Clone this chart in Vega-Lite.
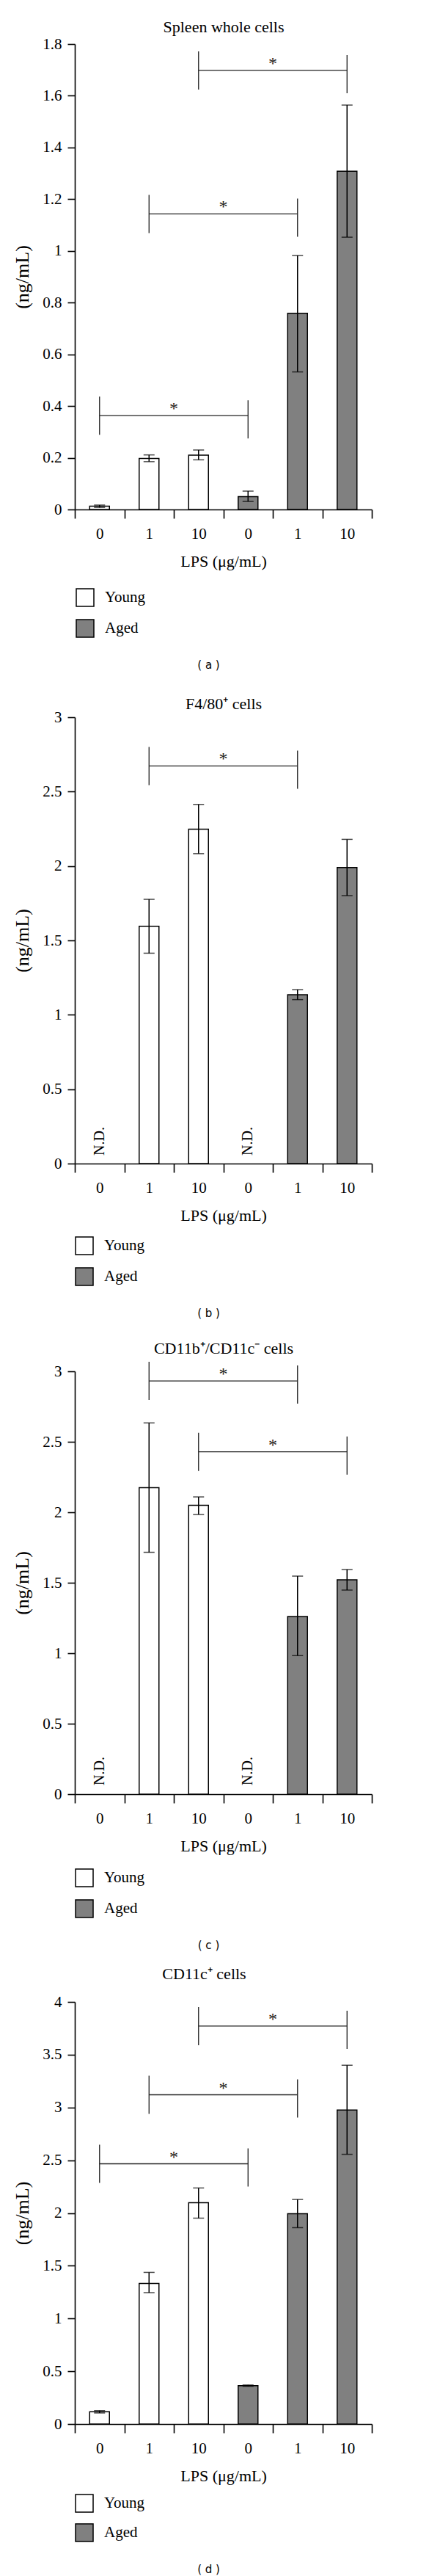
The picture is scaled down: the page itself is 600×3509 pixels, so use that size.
{
  "$schema": "https://vega.github.io/schema/vega-lite/v6.json",
  "padding": {"left": 17, "top": 25, "right": 5, "bottom": 5},
  "spacing": 283,
  "bounds": "flush",
  "background": "white",
  "resolve": {"scale": {"fill": "independent"}, "legend": {"fill": "independent"}},
  "datasets": {
    "barsA": [
      {"g": "Y0", "age": "Young", "v": 0.013, "lo": 0.008, "hi": 0.017},
      {"g": "Y1", "age": "Young", "v": 0.197, "lo": 0.185, "hi": 0.211},
      {"g": "Y10", "age": "Young", "v": 0.21, "lo": 0.192, "hi": 0.23},
      {"g": "A0", "age": "Aged", "v": 0.05, "lo": 0.031, "hi": 0.071},
      {"g": "A1", "age": "Aged", "v": 0.759, "lo": 0.532, "hi": 0.982},
      {"g": "A10", "age": "Aged", "v": 1.308, "lo": 1.053, "hi": 1.564}
    ],
    "sigA": [
      {"from": "Y10", "to": "A10", "mid": "A1", "y": 1.698},
      {"from": "Y1", "to": "A1", "mid": "A0", "y": 1.143},
      {"from": "Y0", "to": "A0", "mid": "Y10", "y": 0.363}
    ],
    "barsB": [
      {"g": "Y0", "age": "Young", "v": null, "lo": null, "hi": null, "nd": "N.D."},
      {"g": "Y1", "age": "Young", "v": 1.595, "lo": 1.414, "hi": 1.776, "nd": null},
      {"g": "Y10", "age": "Young", "v": 2.248, "lo": 2.083, "hi": 2.414, "nd": null},
      {"g": "A0", "age": "Aged", "v": null, "lo": null, "hi": null, "nd": "N.D."},
      {"g": "A1", "age": "Aged", "v": 1.135, "lo": 1.102, "hi": 1.169, "nd": null},
      {"g": "A10", "age": "Aged", "v": 1.99, "lo": 1.801, "hi": 2.179, "nd": null}
    ],
    "sigB": [
      {"from": "Y1", "to": "A1", "mid": "A0", "y": 2.672}
    ],
    "barsC": [
      {"g": "Y0", "age": "Young", "v": null, "lo": null, "hi": null, "nd": "N.D."},
      {"g": "Y1", "age": "Young", "v": 2.175, "lo": 1.716, "hi": 2.634, "nd": null},
      {"g": "Y10", "age": "Young", "v": 2.049, "lo": 1.984, "hi": 2.109, "nd": null},
      {"g": "A0", "age": "Aged", "v": null, "lo": null, "hi": null, "nd": "N.D."},
      {"g": "A1", "age": "Aged", "v": 1.26, "lo": 0.983, "hi": 1.547, "nd": null},
      {"g": "A10", "age": "Aged", "v": 1.521, "lo": 1.448, "hi": 1.594, "nd": null}
    ],
    "sigC": [
      {"from": "Y1", "to": "A1", "mid": "A0", "y": 2.932},
      {"from": "Y10", "to": "A10", "mid": "A1", "y": 2.429}
    ],
    "barsD": [
      {"g": "Y0", "age": "Young", "v": 0.116, "lo": 0.105, "hi": 0.127},
      {"g": "Y1", "age": "Young", "v": 1.333, "lo": 1.245, "hi": 1.437},
      {"g": "Y10", "age": "Young", "v": 2.097, "lo": 1.951, "hi": 2.237},
      {"g": "A0", "age": "Aged", "v": 0.364, "lo": 0.358, "hi": 0.37},
      {"g": "A1", "age": "Aged", "v": 1.993, "lo": 1.861, "hi": 2.128},
      {"g": "A10", "age": "Aged", "v": 2.976, "lo": 2.556, "hi": 3.4}
    ],
    "sigD": [
      {"from": "Y10", "to": "A10", "mid": "A1", "y": 3.771},
      {"from": "Y1", "to": "A1", "mid": "A0", "y": 3.12},
      {"from": "Y0", "to": "A0", "mid": "Y10", "y": 2.466}
    ]
  },
  "vconcat": [
    {
      "title": {"text": "( a )", "orient": "bottom", "frame": "group", "anchor": "middle", "dx": -20, "offset": 28, "font": "DejaVu Sans", "fontSize": 15, "fontWeight": "normal"},
      "width": 405,
      "height": 634,
      "resolve": {"axis": {"x": "independent"}},
      "layer": [
        {
          "data": {"name": "barsA"},
          "mark": {"type": "bar", "width": {"band": 0.4}, "stroke": "black", "strokeWidth": 1.5},
          "encoding": {
            "x": {"field": "g", "type": "nominal", "scale": {"domain": ["Y0", "Y1", "Y10", "A0", "A1", "A10"], "paddingInner": 0, "paddingOuter": 0}, "title": "LPS (μg/mL)", "axis": {"labelExpr": "substring(datum.label, 1)"}},
            "y": {"field": "v", "type": "quantitative", "scale": {"domain": [0, 1.8], "nice": false}, "title": "(ng/mL)", "axis": {"values": [0, 0.2, 0.4, 0.6, 0.8, 1, 1.2, 1.4, 1.6, 1.8], "format": "~g"}},
            "fill": {"field": "age", "type": "nominal", "scale": {"domain": ["Young", "Aged"], "range": ["white", "#808080"]}, "legend": {"orient": "none", "legendX": 1, "legendY": 741}}
          }
        },
        {
          "data": {"name": "barsA"},
          "mark": {"type": "rule", "color": "black", "strokeWidth": 1.5},
          "encoding": {"x": {"field": "g", "type": "nominal", "axis": null}, "y": {"field": "lo", "type": "quantitative"}, "y2": {"field": "hi"}}
        },
        {
          "data": {"name": "barsA"},
          "mark": {"type": "tick", "color": "black", "thickness": 1.5, "size": 15},
          "encoding": {"x": {"field": "g", "type": "nominal", "axis": null}, "y": {"field": "hi", "type": "quantitative"}}
        },
        {
          "data": {"name": "barsA"},
          "mark": {"type": "tick", "color": "black", "thickness": 1.5, "size": 15},
          "encoding": {"x": {"field": "g", "type": "nominal", "axis": null}, "y": {"field": "lo", "type": "quantitative"}}
        },
        {
          "data": {"name": "sigA"},
          "mark": {"type": "rule", "color": "#222", "strokeWidth": 1.3},
          "encoding": {"x": {"field": "from", "type": "nominal", "axis": {"orient": "top", "title": "Spleen whole cells", "domain": false, "ticks": false, "labels": false, "titlePadding": 11.7, "titleFontSize": 22}}, "x2": {"field": "to"}, "y": {"field": "y", "type": "quantitative"}}
        },
        {
          "data": {"name": "sigA"},
          "mark": {"type": "rule", "color": "#222", "strokeWidth": 1.3, "yOffset": -26, "y2Offset": 26},
          "encoding": {"x": {"field": "from", "type": "nominal", "axis": null}, "y": {"field": "y", "type": "quantitative"}, "y2": {"field": "y"}}
        },
        {
          "data": {"name": "sigA"},
          "mark": {"type": "rule", "color": "#222", "strokeWidth": 1.3, "yOffset": -21, "y2Offset": 31},
          "encoding": {"x": {"field": "to", "type": "nominal", "axis": null}, "y": {"field": "y", "type": "quantitative"}, "y2": {"field": "y"}}
        },
        {
          "data": {"name": "sigA"},
          "mark": {"type": "text", "fontSize": 24, "baseline": "alphabetic", "align": "center", "dy": -2, "color": "#222"},
          "encoding": {"x": {"field": "mid", "type": "nominal", "bandPosition": 0, "axis": null}, "y": {"field": "y", "type": "quantitative"}, "text": {"value": "*"}}
        }
      ]
    },
    {
      "title": {"text": "( b )", "orient": "bottom", "frame": "group", "anchor": "middle", "dx": -20, "offset": 28, "font": "DejaVu Sans", "fontSize": 15, "fontWeight": "normal"},
      "width": 405,
      "height": 608,
      "resolve": {"axis": {"x": "independent"}},
      "layer": [
        {
          "data": {"name": "barsB"},
          "mark": {"type": "bar", "width": {"band": 0.4}, "stroke": "black", "strokeWidth": 1.5},
          "encoding": {
            "x": {"field": "g", "type": "nominal", "scale": {"domain": ["Y0", "Y1", "Y10", "A0", "A1", "A10"], "paddingInner": 0, "paddingOuter": 0}, "title": "LPS (μg/mL)", "axis": {"labelExpr": "substring(datum.label, 1)"}},
            "y": {"field": "v", "type": "quantitative", "scale": {"domain": [0, 3], "nice": false}, "title": "(ng/mL)", "axis": {"values": [0, 0.5, 1, 1.5, 2, 2.5, 3], "format": "~g"}},
            "fill": {"field": "age", "type": "nominal", "scale": {"domain": ["Young", "Aged"], "range": ["white", "#808080"]}, "legend": {"orient": "none", "legendX": 0, "legendY": 707}}
          }
        },
        {
          "data": {"name": "barsB"},
          "mark": {"type": "rule", "color": "black", "strokeWidth": 1.5},
          "encoding": {"x": {"field": "g", "type": "nominal", "axis": null}, "y": {"field": "lo", "type": "quantitative"}, "y2": {"field": "hi"}}
        },
        {
          "data": {"name": "barsB"},
          "mark": {"type": "tick", "color": "black", "thickness": 1.5, "size": 15},
          "encoding": {"x": {"field": "g", "type": "nominal", "axis": null}, "y": {"field": "hi", "type": "quantitative"}}
        },
        {
          "data": {"name": "barsB"},
          "mark": {"type": "tick", "color": "black", "thickness": 1.5, "size": 15},
          "encoding": {"x": {"field": "g", "type": "nominal", "axis": null}, "y": {"field": "lo", "type": "quantitative"}}
        },
        {
          "data": {"name": "barsB"},
          "transform": [{"filter": "datum.nd != null"}],
          "mark": {"type": "text", "angle": 270, "align": "left", "baseline": "middle", "fontSize": 20, "dx": 11, "color": "black"},
          "encoding": {"x": {"field": "g", "type": "nominal", "axis": null}, "y": {"datum": 0}, "text": {"field": "nd"}}
        },
        {
          "data": {"name": "sigB"},
          "mark": {"type": "rule", "color": "#222", "strokeWidth": 1.3},
          "encoding": {"x": {"field": "from", "type": "nominal", "axis": {"orient": "top", "title": "F4/80⁺ cells", "domain": false, "ticks": false, "labels": false, "titlePadding": 7, "titleFontSize": 22}}, "x2": {"field": "to"}, "y": {"field": "y", "type": "quantitative"}}
        },
        {
          "data": {"name": "sigB"},
          "mark": {"type": "rule", "color": "#222", "strokeWidth": 1.3, "yOffset": -26, "y2Offset": 26},
          "encoding": {"x": {"field": "from", "type": "nominal", "axis": null}, "y": {"field": "y", "type": "quantitative"}, "y2": {"field": "y"}}
        },
        {
          "data": {"name": "sigB"},
          "mark": {"type": "rule", "color": "#222", "strokeWidth": 1.3, "yOffset": -21, "y2Offset": 31},
          "encoding": {"x": {"field": "to", "type": "nominal", "axis": null}, "y": {"field": "y", "type": "quantitative"}, "y2": {"field": "y"}}
        },
        {
          "data": {"name": "sigB"},
          "mark": {"type": "text", "fontSize": 24, "baseline": "alphabetic", "align": "center", "dy": -2, "color": "#222"},
          "encoding": {"x": {"field": "mid", "type": "nominal", "bandPosition": 0, "axis": null}, "y": {"field": "y", "type": "quantitative"}, "text": {"value": "*"}}
        }
      ]
    },
    {
      "title": {"text": "( c )", "orient": "bottom", "frame": "group", "anchor": "middle", "dx": -20, "offset": 28, "font": "DejaVu Sans", "fontSize": 15, "fontWeight": "normal"},
      "width": 405,
      "height": 576,
      "resolve": {"axis": {"x": "independent"}},
      "layer": [
        {
          "data": {"name": "barsC"},
          "mark": {"type": "bar", "width": {"band": 0.4}, "stroke": "black", "strokeWidth": 1.5},
          "encoding": {
            "x": {"field": "g", "type": "nominal", "scale": {"domain": ["Y0", "Y1", "Y10", "A0", "A1", "A10"], "paddingInner": 0, "paddingOuter": 0}, "title": "LPS (μg/mL)", "axis": {"labelExpr": "substring(datum.label, 1)"}},
            "y": {"field": "v", "type": "quantitative", "scale": {"domain": [0, 3], "nice": false}, "title": "(ng/mL)", "axis": {"values": [0, 0.5, 1, 1.5, 2, 2.5, 3], "format": "~g"}},
            "fill": {"field": "age", "type": "nominal", "scale": {"domain": ["Young", "Aged"], "range": ["white", "#808080"]}, "legend": {"orient": "none", "legendX": 0, "legendY": 677}}
          }
        },
        {
          "data": {"name": "barsC"},
          "mark": {"type": "rule", "color": "black", "strokeWidth": 1.5},
          "encoding": {"x": {"field": "g", "type": "nominal", "axis": null}, "y": {"field": "lo", "type": "quantitative"}, "y2": {"field": "hi"}}
        },
        {
          "data": {"name": "barsC"},
          "mark": {"type": "tick", "color": "black", "thickness": 1.5, "size": 15},
          "encoding": {"x": {"field": "g", "type": "nominal", "axis": null}, "y": {"field": "hi", "type": "quantitative"}}
        },
        {
          "data": {"name": "barsC"},
          "mark": {"type": "tick", "color": "black", "thickness": 1.5, "size": 15},
          "encoding": {"x": {"field": "g", "type": "nominal", "axis": null}, "y": {"field": "lo", "type": "quantitative"}}
        },
        {
          "data": {"name": "barsC"},
          "transform": [{"filter": "datum.nd != null"}],
          "mark": {"type": "text", "angle": 270, "align": "left", "baseline": "middle", "fontSize": 20, "dx": 12, "color": "black"},
          "encoding": {"x": {"field": "g", "type": "nominal", "axis": null}, "y": {"datum": 0}, "text": {"field": "nd"}}
        },
        {
          "data": {"name": "sigC"},
          "mark": {"type": "rule", "color": "#222", "strokeWidth": 1.3},
          "encoding": {"x": {"field": "from", "type": "nominal", "axis": {"orient": "top", "title": "CD11b⁺/CD11c⁻ cells", "domain": false, "ticks": false, "labels": false, "titlePadding": 19.4, "titleFontSize": 22}}, "x2": {"field": "to"}, "y": {"field": "y", "type": "quantitative"}}
        },
        {
          "data": {"name": "sigC"},
          "mark": {"type": "rule", "color": "#222", "strokeWidth": 1.3, "yOffset": -26, "y2Offset": 26},
          "encoding": {"x": {"field": "from", "type": "nominal", "axis": null}, "y": {"field": "y", "type": "quantitative"}, "y2": {"field": "y"}}
        },
        {
          "data": {"name": "sigC"},
          "mark": {"type": "rule", "color": "#222", "strokeWidth": 1.3, "yOffset": -21, "y2Offset": 31},
          "encoding": {"x": {"field": "to", "type": "nominal", "axis": null}, "y": {"field": "y", "type": "quantitative"}, "y2": {"field": "y"}}
        },
        {
          "data": {"name": "sigC"},
          "mark": {"type": "text", "fontSize": 24, "baseline": "alphabetic", "align": "center", "dy": -2, "color": "#222"},
          "encoding": {"x": {"field": "mid", "type": "nominal", "bandPosition": 0, "axis": null}, "y": {"field": "y", "type": "quantitative"}, "text": {"value": "*"}}
        }
      ]
    },
    {
      "title": {"text": "( d )", "orient": "bottom", "frame": "group", "anchor": "middle", "dx": -20, "offset": 28, "font": "DejaVu Sans", "fontSize": 15, "fontWeight": "normal"},
      "width": 405,
      "height": 575,
      "resolve": {"axis": {"x": "independent"}},
      "layer": [
        {
          "data": {"name": "barsD"},
          "mark": {"type": "bar", "width": {"band": 0.4}, "stroke": "black", "strokeWidth": 1.5},
          "encoding": {
            "x": {"field": "g", "type": "nominal", "scale": {"domain": ["Y0", "Y1", "Y10", "A0", "A1", "A10"], "paddingInner": 0, "paddingOuter": 0}, "title": "LPS (μg/mL)", "axis": {"labelExpr": "substring(datum.label, 1)"}},
            "y": {"field": "v", "type": "quantitative", "scale": {"domain": [0, 4], "nice": false}, "title": "(ng/mL)", "axis": {"values": [0, 0.5, 1, 1.5, 2, 2.5, 3, 3.5, 4], "format": "~g"}},
            "fill": {"field": "age", "type": "nominal", "scale": {"domain": ["Young", "Aged"], "range": ["white", "#808080"]}, "legend": {"orient": "none", "legendX": 0, "legendY": 670, "rowPadding": 10}}
          }
        },
        {
          "data": {"name": "barsD"},
          "mark": {"type": "rule", "color": "black", "strokeWidth": 1.5},
          "encoding": {"x": {"field": "g", "type": "nominal", "axis": null}, "y": {"field": "lo", "type": "quantitative"}, "y2": {"field": "hi"}}
        },
        {
          "data": {"name": "barsD"},
          "mark": {"type": "tick", "color": "black", "thickness": 1.5, "size": 15},
          "encoding": {"x": {"field": "g", "type": "nominal", "axis": null}, "y": {"field": "hi", "type": "quantitative"}}
        },
        {
          "data": {"name": "barsD"},
          "mark": {"type": "tick", "color": "black", "thickness": 1.5, "size": 15},
          "encoding": {"x": {"field": "g", "type": "nominal", "axis": null}, "y": {"field": "lo", "type": "quantitative"}}
        },
        {
          "data": {"name": "sigD"},
          "mark": {"type": "rule", "color": "#222", "strokeWidth": 1.3},
          "encoding": {"x": {"field": "from", "type": "nominal", "axis": {"orient": "top", "title": "CD11c⁺ cells", "domain": false, "ticks": false, "labels": false, "titlePadding": 27, "titleFontSize": 22, "titleX": 176}}, "x2": {"field": "to"}, "y": {"field": "y", "type": "quantitative"}}
        },
        {
          "data": {"name": "sigD"},
          "mark": {"type": "rule", "color": "#222", "strokeWidth": 1.3, "yOffset": -26, "y2Offset": 26},
          "encoding": {"x": {"field": "from", "type": "nominal", "axis": null}, "y": {"field": "y", "type": "quantitative"}, "y2": {"field": "y"}}
        },
        {
          "data": {"name": "sigD"},
          "mark": {"type": "rule", "color": "#222", "strokeWidth": 1.3, "yOffset": -21, "y2Offset": 31},
          "encoding": {"x": {"field": "to", "type": "nominal", "axis": null}, "y": {"field": "y", "type": "quantitative"}, "y2": {"field": "y"}}
        },
        {
          "data": {"name": "sigD"},
          "mark": {"type": "text", "fontSize": 24, "baseline": "alphabetic", "align": "center", "dy": -2, "color": "#222"},
          "encoding": {"x": {"field": "mid", "type": "nominal", "bandPosition": 0, "axis": null}, "y": {"field": "y", "type": "quantitative"}, "text": {"value": "*"}}
        }
      ]
    }
  ],
  "config": {
    "view": {"stroke": null},
    "font": "Liberation Serif",
    "title": {"font": "Liberation Serif", "fontSize": 22, "fontWeight": "normal", "color": "black", "anchor": "middle"},
    "axis": {"grid": false, "domainColor": "black", "domainWidth": 1.6, "tickColor": "black", "tickWidth": 1.6, "labelColor": "black", "labelFont": "Liberation Serif", "labelFontSize": 21, "titleFont": "Liberation Serif", "titleFontSize": 22, "titleFontWeight": "normal", "titleColor": "black"},
    "axisX": {"tickSize": 12, "labelAngle": 0, "labelPadding": 10, "titlePadding": 17, "tickBand": "extent"},
    "axisY": {"tickSize": 10, "labelPadding": 8, "titlePadding": 14, "titleFontSize": 26},
    "legend": {"title": null, "direction": "vertical", "symbolType": "square", "symbolSize": 576, "symbolStrokeColor": "black", "symbolStrokeWidth": 1.5, "labelFont": "Liberation Serif", "labelFontSize": 21, "labelColor": "black", "labelOffset": 14, "rowPadding": 12, "padding": 0, "offset": 0}
  }
}
